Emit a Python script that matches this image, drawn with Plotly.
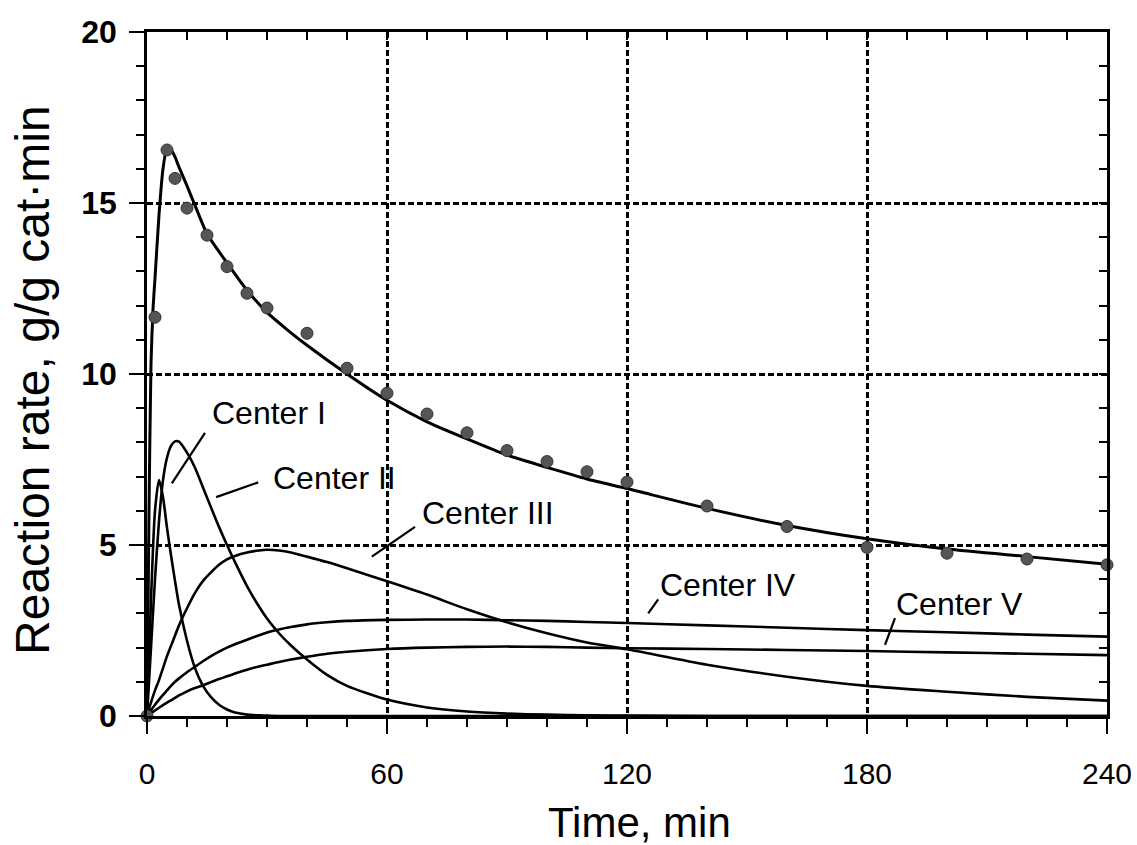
import plotly.graph_objects as go

# ---------------- data ----------------
t_total = [0, 0.5, 1, 1.5, 2, 3, 4, 5, 6, 7, 8, 10, 12, 15, 20, 25, 30, 35, 40, 50, 60,
           70, 80, 90, 100, 110, 120, 140, 160, 180, 200, 220, 240]
rate_total = [0, 6.0, 10.3, 11.9, 12.8, 14.65, 16.0, 16.6, 16.55, 16.35, 16.05, 15.5, 14.93,
              14.1, 13.25, 12.45, 11.8, 11.3, 10.84, 10.0, 9.23, 8.6, 8.1, 7.63, 7.27, 6.93,
              6.65, 6.07, 5.57, 5.18, 4.88, 4.66, 4.44]

t_meas = [0, 2, 5, 7, 10, 15, 20, 25, 30, 40, 50, 60, 70, 80, 90, 100, 110, 120,
          140, 160, 180, 200, 220, 240]
rate_meas = [0, 11.66, 16.55, 15.72, 14.85, 14.06, 13.14, 12.36, 11.93, 11.19, 10.17, 9.44,
             8.83, 8.28, 7.76, 7.44, 7.14, 6.84, 6.14, 5.54, 4.93, 4.76, 4.59, 4.42]

t_c = [0, 1, 2, 3, 4, 5, 6, 7, 8, 10, 12, 14, 16, 18, 20, 22, 25, 28, 30, 33, 36, 40, 45, 50,
       60, 70, 80, 90, 100, 110, 120, 140, 160, 180, 200, 220, 240]
center_1 = [0, 3.4, 6.0, 6.9, 6.4, 5.5, 4.7, 3.95, 3.25, 2.2, 1.4, 0.88, 0.55, 0.33, 0.19,
            0.1, 0.04, 0.02, 0.01, 0, 0, 0, 0, 0, 0, 0, 0, 0, 0, 0, 0, 0, 0, 0, 0, 0, 0]
center_2 = [0, 2.0, 4.0, 5.7, 6.9, 7.55, 7.9, 8.03, 8.02, 7.7, 7.26, 6.68, 6.1, 5.53, 5.0,
            4.5, 3.8, 3.2, 2.85, 2.42, 2.06, 1.65, 1.2, 0.88, 0.48, 0.25, 0.13, 0.07, 0.04,
            0.02, 0.01, 0, 0, 0, 0, 0, 0]
center_3 = [0, 0.4, 0.75, 1.05, 1.4, 1.75, 2.05, 2.35, 2.65, 3.15, 3.6, 3.95, 4.2, 4.42,
            4.58, 4.68, 4.78, 4.84, 4.86, 4.84, 4.78, 4.66, 4.5, 4.32, 3.94, 3.55, 3.12,
            2.74, 2.42, 2.15, 1.95, 1.5, 1.15, 0.88, 0.71, 0.56, 0.45]
center_4 = [0, 0.17, 0.33, 0.48, 0.62, 0.75, 0.88, 1.0, 1.1, 1.28, 1.44, 1.6, 1.75, 1.88,
            2.0, 2.1, 2.23, 2.36, 2.44, 2.53, 2.6, 2.68, 2.74, 2.78, 2.81, 2.82, 2.82, 2.8,
            2.78, 2.75, 2.72, 2.65, 2.58, 2.51, 2.45, 2.38, 2.32]
center_5 = [0, 0.08, 0.16, 0.24, 0.32, 0.39, 0.46, 0.53, 0.6, 0.72, 0.82, 0.9, 0.99, 1.08,
            1.16, 1.24, 1.35, 1.45, 1.5, 1.58, 1.65, 1.73, 1.82, 1.88, 1.96, 2.0, 2.02, 2.03,
            2.02, 2.0, 1.98, 1.96, 1.93, 1.9, 1.86, 1.82, 1.78]

center_names = ["Center I", "Center II", "Center III", "Center IV", "Center V"]
x_ticks = [0, 60, 120, 180, 240]
y_ticks = [0, 5, 10, 15, 20]

# ---------------- label placement (layout) ----------------
label_pos = [(30.5, 8.85), (46.8, 6.97), (85.3, 5.95), (145.3, 3.83), (203.0, 3.27)]
leader = [((6.2, 6.8), (14.5, 8.28)),
          ((17.3, 6.4), (27.8, 6.83)),
          ((56.2, 4.66), (67.0, 5.53)),
          ((125.3, 3.0), (127.8, 3.41)),
          ((184.5, 2.08), (187.0, 2.86))]

FONT = "Liberation Sans, Arial, sans-serif"

fig = go.Figure()

for name, vals in zip(center_names, [center_1, center_2, center_3, center_4, center_5]):
    fig.add_trace(go.Scatter(x=t_c, y=vals, mode="lines", name=name,
                             line=dict(color="black", width=2.6, shape="spline", smoothing=0.7),
                             showlegend=False))

fig.add_trace(go.Scatter(x=t_total, y=rate_total, mode="lines", name="Total",
                         line=dict(color="black", width=3, shape="spline", smoothing=0.6),
                         showlegend=False))
fig.add_trace(go.Scatter(x=t_meas, y=rate_meas, mode="markers", name="Measured",
                         marker=dict(size=12, color="#555555",
                                     line=dict(color="#333333", width=1)),
                         showlegend=False, cliponaxis=False))

# invisible trace to realise the mirrored (top/right) axes
fig.add_trace(go.Scatter(x=[0, 240], y=[0, 20], mode="none", xaxis="x2", yaxis="y2",
                         showlegend=False, hoverinfo="skip"))

for name, (lx, ly) in zip(center_names, label_pos):
    fig.add_annotation(x=lx, y=ly, text=name, showarrow=False,
                       font=dict(family=FONT, size=32, color="black"),
                       xanchor="center", yanchor="middle")
for (a, b) in leader:
    fig.add_shape(type="line", x0=a[0], y0=a[1], x1=b[0], y1=b[1],
                  line=dict(color="black", width=2.2))

grid_dash = "6px,3px"
fig.update_layout(
    width=1137, height=845,
    margin=dict(l=147, r=30, t=32, b=129),
    paper_bgcolor="white", plot_bgcolor="white",
    xaxis=dict(range=[0, 240], tickvals=x_ticks, ticks="outside", ticklen=15, tickwidth=2,
               tickcolor="black", showline=True, linewidth=2.5, linecolor="black",
               mirror=True, showgrid=True, gridcolor="black", gridwidth=2.5,
               griddash=grid_dash, zeroline=False, automargin=False,
               minor=dict(dtick=10, ticks="outside", ticklen=8, tickwidth=2,
                          tickcolor="black", showgrid=False),
               tickfont=dict(family=FONT, size=30, color="black"),
               ticklabelstandoff=14),
    yaxis=dict(range=[0, 20], tickvals=y_ticks, ticks="outside", ticklen=15, tickwidth=2,
               tickcolor="black", showline=True, linewidth=2.5, linecolor="black",
               mirror=True, showgrid=True, gridcolor="black", gridwidth=2.5,
               griddash=grid_dash, zeroline=False, automargin=False,
               minor=dict(dtick=1, ticks="outside", ticklen=8, tickwidth=2,
                          tickcolor="black", showgrid=False),
               tickfont=dict(family=FONT, size=32, color="black", weight="bold"),
               ticklabelstandoff=6),
    xaxis2=dict(range=[0, 240], overlaying="x", side="top", dtick=10, tick0=0,
                ticks="inside", ticklen=8, tickwidth=2, tickcolor="black",
                showticklabels=False, showgrid=False, showline=False, zeroline=False,
                automargin=False),
    yaxis2=dict(range=[0, 20], overlaying="y", side="right", dtick=1, tick0=0,
                ticks="inside", ticklen=8, tickwidth=2, tickcolor="black",
                showticklabels=False, showgrid=False, showline=False, zeroline=False,
                automargin=False),
    annotations=list(fig.layout.annotations) + [
        dict(text="Time, min", xref="paper", yref="paper", x=0.513, y=-0.155,
             showarrow=False, xanchor="center", yanchor="middle",
             font=dict(family=FONT, size=42, color="black")),
        dict(text="Reaction rate, g/g cat\u00b7min", xref="paper", yref="paper",
             x=-0.12, y=0.491, textangle=-90, showarrow=False,
             xanchor="center", yanchor="middle",
             font=dict(family=FONT, size=48, color="black")),
    ],
)

fig.write_html("out.html")
